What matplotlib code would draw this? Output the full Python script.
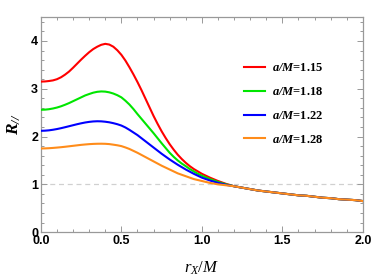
import numpy as np
import matplotlib
matplotlib.use("Agg")
import matplotlib.pyplot as plt
from matplotlib.ticker import MultipleLocator

plt.rcParams['mathtext.fontset'] = 'custom'
plt.rcParams['mathtext.rm'] = 'Liberation Serif'
plt.rcParams['mathtext.it'] = 'Liberation Serif:italic'
plt.rcParams['mathtext.bf'] = 'Liberation Serif:bold:italic'

# r_X/M: step 0.025 up to 1.2, then 0.05 (curves coincide there)
x_head = np.round(np.arange(0, 49) * 0.025, 3)
x_tail = np.round(1.2 + np.arange(1, 17) * 0.05, 3)
x = np.concatenate([x_head, x_tail])

tail = [0.93, 0.90, 0.87, 0.85, 0.83, 0.81, 0.79, 0.77,
        0.76, 0.74, 0.72, 0.71, 0.69, 0.68, 0.67, 0.65]

r115 = [3.15, 3.153, 3.162, 3.175, 3.20, 3.24, 3.295, 3.36, 3.44, 3.525,
        3.61, 3.69, 3.765, 3.83, 3.88, 3.92, 3.94, 3.925, 3.88, 3.805,
        3.71, 3.59, 3.45, 3.30, 3.14, 2.97, 2.79, 2.61, 2.43, 2.265,
        2.11, 1.97, 1.84, 1.725, 1.62, 1.53, 1.45, 1.38, 1.32, 1.27,
        1.22, 1.18, 1.14, 1.105, 1.07, 1.04, 1.01, 0.985, 0.96] + tail
r118 = [2.56, 2.563, 2.572, 2.587, 2.607, 2.633, 2.665, 2.70, 2.74, 2.78,
        2.82, 2.86, 2.89, 2.918, 2.936, 2.944, 2.94, 2.925, 2.90, 2.865,
        2.82, 2.75, 2.67, 2.575, 2.47, 2.37, 2.27, 2.17, 2.07, 1.965,
        1.86, 1.76, 1.66, 1.575, 1.50, 1.435, 1.38, 1.32, 1.27, 1.22,
        1.18, 1.145, 1.11, 1.08, 1.05, 1.025, 1.00, 0.98, 0.96] + tail
r122 = [2.12, 2.123, 2.13, 2.142, 2.157, 2.175, 2.195, 2.216, 2.237, 2.258,
        2.277, 2.294, 2.307, 2.316, 2.32, 2.318, 2.31, 2.298, 2.28, 2.258,
        2.23, 2.19, 2.14, 2.085, 2.03, 1.965, 1.90, 1.835, 1.77, 1.705,
        1.64, 1.58, 1.52, 1.465, 1.41, 1.36, 1.31, 1.265, 1.22, 1.18,
        1.14, 1.11, 1.08, 1.055, 1.03, 1.01, 0.99, 0.975, 0.96] + tail
r128 = [1.75, 1.752, 1.756, 1.762, 1.769, 1.777, 1.786, 1.796, 1.806, 1.816,
        1.826, 1.834, 1.841, 1.846, 1.849, 1.85, 1.848, 1.842, 1.83, 1.817,
        1.80, 1.772, 1.74, 1.70, 1.66, 1.615, 1.57, 1.525, 1.48, 1.435,
        1.39, 1.35, 1.31, 1.27, 1.23, 1.20, 1.17, 1.14, 1.11, 1.09,
        1.07, 1.05, 1.03, 1.015, 1.00, 0.99, 0.98, 0.97, 0.96] + tail

labels = ["1.15", "1.18", "1.22", "1.28"]
series = [r115, r118, r122, r128]
colors = ["#ff0000", "#00e600", "#0000ff", "#ff8c1a"]

fig = plt.figure(figsize=(3.82, 2.8), dpi=100)
ax = fig.add_axes([0.107, 0.171, 0.843, 0.768])

ax.axhline(1.0, color="#d0d0d0", lw=0.9, ls=(0, (4, 3)), zorder=1)
for ys, lab, c in zip(series, labels, colors):
    ax.plot(x, ys, color=c, lw=1.5, label=r"$\mathbf{a/M}$=" + lab, zorder=3)

ax.set_xlim(0, 2.0)
ax.set_ylim(0, 4.5)
ax.xaxis.set_major_locator(MultipleLocator(0.5))
ax.xaxis.set_minor_locator(MultipleLocator(0.1))
ax.yaxis.set_major_locator(MultipleLocator(1))
ax.yaxis.set_minor_locator(MultipleLocator(0.2))
ax.set_xticks([0, 0.5, 1.0, 1.5, 2.0])
ax.set_xticklabels(["0.0", "0.5", "1.0", "1.5", "2.0"])

for s in ax.spines.values():
    s.set_color("#999999")
    s.set_linewidth(0.9)
ax.tick_params(which="both", direction="in", top=True, right=True,
               color="#999999", width=0.7, labelsize=9, pad=2)
ax.tick_params(which="major", length=4)
ax.tick_params(which="minor", length=2)
for t in ax.get_xticklabels() + ax.get_yticklabels():
    t.set_fontfamily("Liberation Sans")
    t.set_fontweight("bold")

ax.set_xlabel(r"$r_X/M$", fontsize=12, labelpad=9)
ax.set_ylabel(r"$\mathbf{R}_{\mathbf{//}}$", fontsize=12.5, labelpad=6)

ax.legend(loc="upper left", bbox_to_anchor=(0.63, 0.79), frameon=False,
          prop={"family": "Liberation Serif", "weight": "bold", "size": 9},
          handlelength=1.7, handletextpad=0.55, labelspacing=0.95,
          borderpad=0, borderaxespad=0)

fig.savefig("out.png", dpi=100)
